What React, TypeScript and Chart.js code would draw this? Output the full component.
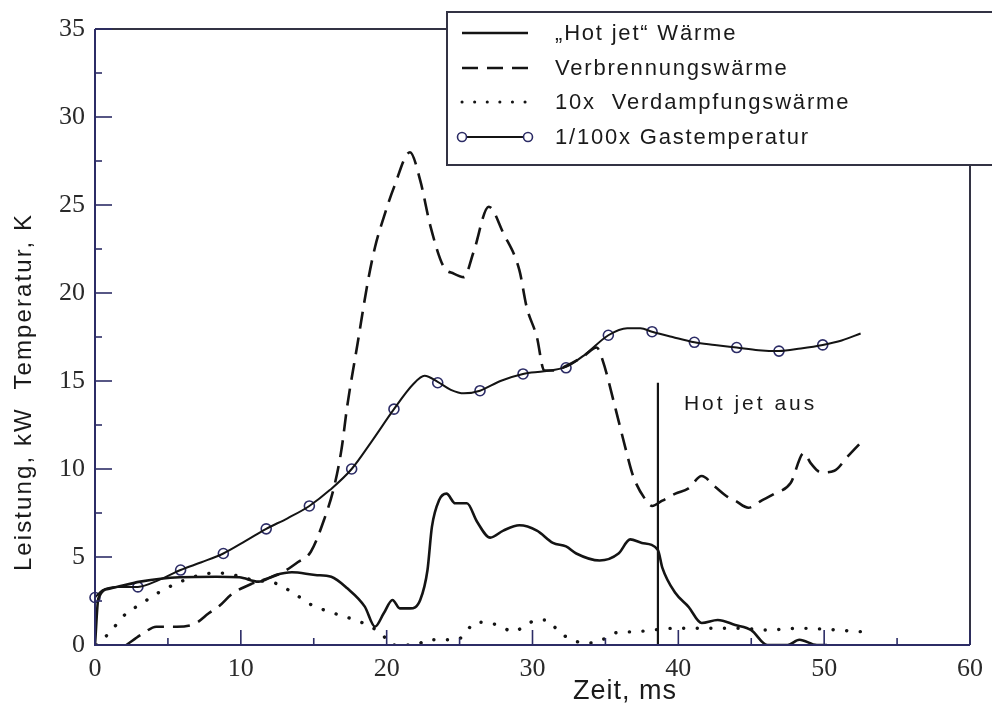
import React, { useEffect, useRef } from "react";
import { Chart, registerables } from "chart.js";

Chart.register(...registerables);

// ---- Data ----
const xTickValues = [0, 10, 20, 30, 40, 50, 60];
const yTickValues = [0, 5, 10, 15, 20, 25, 30, 35];

const legendLabels = [
  "\u201EHot jet\u201C W\u00E4rme",
  "Verbrennungsw\u00E4rme",
  "10x  Verdampfungsw\u00E4rme",
  "1/100x Gastemperatur",
];
const xTitle = "Zeit, ms";
const yTitle = "Leistung, kW  Temperatur, K";
const annotationText = "Hot jet aus";

// "Hot jet" Wärme (solid)
const hotJetX = [0, 0.23, 1.0, 3.1, 5.8, 8.3, 9.9, 11.2, 12.4, 13.5, 15.1, 16.2, 17.3, 18.5, 19.2, 19.8, 20.4, 20.9, 21.6, 22.3, 22.8, 23.1, 23.6, 24.1, 24.7, 25.5, 26.2, 27.1, 28.0, 29.1, 30.3, 31.4, 32.3, 33.0, 34.6, 35.9, 36.7, 37.5, 38.6, 38.9, 39.8, 40.7, 41.6, 42.7, 43.9, 45.0, 46.1, 47.5, 48.3, 49.5, 50.2];
const hotJetY = [0, 2.65, 3.2, 3.6, 3.85, 3.88, 3.85, 3.6, 3.98, 4.13, 3.98, 3.88, 3.22, 2.18, 1.04, 1.8, 2.56, 2.08, 2.08, 2.56, 4.26, 6.7, 8.24, 8.6, 8.05, 8.05, 7.0, 6.1, 6.5, 6.8, 6.5, 5.8, 5.6, 5.2, 4.8, 5.2, 6.0, 5.8, 5.4, 4.4, 2.95, 2.17, 1.25, 1.42, 1.14, 0.85, 0, 0, 0.3, 0, 0];

// Verbrennungswärme (dashed)
const combustionX = [2.15, 3.3, 4.2, 5.6, 6.9, 7.8, 8.5, 9.4, 10.8, 11.9, 12.8, 13.9, 14.8, 15.7, 16.4, 16.9, 17.3, 18.0, 18.7, 19.2, 19.8, 20.5, 21.6, 22.3, 23.0, 23.9, 24.6, 25.3, 25.95, 27.0, 28.0, 29.1, 29.6, 30.3, 30.8, 31.5, 32.3, 33.5, 34.4, 34.8, 35.7, 36.4, 36.9, 37.8, 38.2, 38.9, 39.8, 40.7, 41.6, 42.5, 43.4, 43.9, 44.8, 45.7, 46.6, 47.7, 48.6, 49.1, 49.8, 50.7, 51.6, 52.4];
const combustionY = [0, 0.66, 1.04, 1.04, 1.23, 1.8, 2.2, 2.9, 3.5, 3.8, 4.1, 4.7, 5.3, 7.1, 9.0, 11.1, 13.6, 17.1, 20.6, 22.6, 24.3, 26.0, 28.0, 26.4, 23.8, 21.5, 21.1, 20.9, 22.3, 24.9, 23.4, 21.3, 19.2, 17.5, 15.6, 15.6, 15.85, 16.4, 16.9, 16.2, 13.4, 11.1, 9.6, 8.2, 7.9, 8.2, 8.6, 8.9, 9.6, 9.0, 8.4, 8.2, 7.8, 8.2, 8.6, 9.2, 10.9, 10.3, 9.8, 9.9, 10.7, 11.4];

// 10x Verdampfungswärme (dotted)
const evapX = [0.1, 0.7, 1.3, 2.15, 3.1, 4.2, 5.6, 6.9, 8.3, 9.4, 10.8, 12.4, 13.7, 14.8, 16.4, 17.9, 19.0, 19.8, 20.3, 22.0, 22.8, 24.8, 26.2, 27.6, 28.7, 29.4, 30.3, 31.0, 31.6, 32.3, 33.7, 34.8, 35.5, 37.1, 39.8, 44.3, 45.9, 48.4, 52.5];
const evapY = [0, 0.45, 1.0, 1.8, 2.3, 2.9, 3.5, 3.9, 4.1, 4.0, 3.7, 3.5, 2.9, 2.3, 1.8, 1.4, 1.0, 0.5, 0, 0, 0.3, 0.3, 1.3, 1.14, 0.76, 1.04, 1.42, 1.42, 0.95, 0.47, 0.1, 0.3, 0.66, 0.76, 0.95, 0.95, 0.85, 0.95, 0.76];

// 1/100x Gastemperatur (line)
const gasX = [0, 0.5, 1.5, 2.94, 4.4, 5.87, 7.3, 8.8, 10.3, 11.74, 13.2, 14.7, 16.1, 17.6, 19.0, 20.5, 21.8, 22.6, 23.5, 24.4, 25.3, 26.4, 27.8, 29.35, 30.8, 32.3, 33.6, 35.2, 36.5, 37.4, 38.2, 39.6, 41.1, 42.5, 44.0, 45.5, 46.9, 48.4, 49.9, 51.2, 52.5];
const gasY = [2.7, 3.1, 3.3, 3.3, 3.7, 4.26, 4.7, 5.2, 5.9, 6.6, 7.2, 7.9, 8.8, 10.0, 11.6, 13.4, 14.8, 15.3, 14.95, 14.5, 14.3, 14.45, 15.0, 15.4, 15.55, 15.8, 16.5, 17.6, 18.0, 18.0, 17.8, 17.5, 17.2, 17.05, 16.9, 16.75, 16.7, 16.85, 17.05, 17.3, 17.7];
// 1/100x Gastemperatur (circle markers)
const gasMarkerX = [0, 2.94, 5.87, 8.8, 11.74, 14.7, 17.6, 20.5, 23.5, 26.4, 29.35, 32.3, 35.2, 38.2, 41.1, 44.0, 46.9, 49.9];
const gasMarkerY = [2.7, 3.3, 4.26, 5.2, 6.6, 7.9, 10.0, 13.4, 14.9, 14.45, 15.4, 15.75, 17.6, 17.8, 17.2, 16.9, 16.7, 17.05];

// "Hot jet aus" vertical marker
const hotJetOffX = [38.6, 38.6];
const hotJetOffY = [0, 14.9];

const zip = (xs: number[], ys: number[]) => xs.map((x, i) => ({ x, y: ys[i] }));

const INK = "#141414";
const AXIS = "#2c2c66";
const SANS = "'Liberation Sans', Arial, sans-serif";
const SERIF = "'Liberation Serif', 'Times New Roman', serif";

const decorPlugin = {
  id: "decor",
  afterDatasetsDraw(chart: any) {
    const { ctx, chartArea: a, scales } = chart;
    const xs = scales.x;
    const ys = scales.y;
    ctx.save();
    // frame
    ctx.lineCap = "butt";
    ctx.lineWidth = 2;
    ctx.strokeStyle = "#333344";
    ctx.beginPath();
    ctx.moveTo(a.left, a.top);
    ctx.lineTo(a.right, a.top);
    ctx.lineTo(a.right, a.bottom);
    ctx.stroke();
    ctx.strokeStyle = AXIS;
    ctx.beginPath();
    ctx.moveTo(a.left, a.top);
    ctx.lineTo(a.left, a.bottom);
    ctx.lineTo(a.right, a.bottom);
    ctx.stroke();

    // inward ticks
    ctx.lineWidth = 1.6;
    ctx.strokeStyle = AXIS;
    yTickValues.forEach((v, i) => {
      const py = ys.getPixelForValue(v);
      ctx.beginPath();
      ctx.moveTo(a.left, py);
      ctx.lineTo(a.left + 17, py);
      ctx.stroke();
      if (i < yTickValues.length - 1) {
        const pm = ys.getPixelForValue((v + yTickValues[i + 1]) / 2);
        ctx.beginPath();
        ctx.moveTo(a.left, pm);
        ctx.lineTo(a.left + 7, pm);
        ctx.stroke();
      }
    });
    xTickValues.forEach((v, i) => {
      const px = xs.getPixelForValue(v);
      ctx.beginPath();
      ctx.moveTo(px, a.bottom);
      ctx.lineTo(px, a.bottom - 15);
      ctx.stroke();
      if (i < xTickValues.length - 1) {
        const pm = xs.getPixelForValue((v + xTickValues[i + 1]) / 2);
        ctx.beginPath();
        ctx.moveTo(pm, a.bottom);
        ctx.lineTo(pm, a.bottom - 7);
        ctx.stroke();
      }
    });

    // annotation text
    ctx.fillStyle = "#1a1a1a";
    ctx.font = `21px ${SANS}`;
    (ctx as any).letterSpacing = "3px";
    ctx.textAlign = "left";
    ctx.textBaseline = "middle";
    ctx.fillText(
      annotationText,
      xs.getPixelForValue(hotJetOffX[0]) + 26,
      ys.getPixelForValue(hotJetOffY[1]) + 21
    );

    // axis titles
    (ctx as any).letterSpacing = "1px";
    ctx.fillStyle = "#1a1a1a";
    ctx.font = `27px ${SANS}`;
    ctx.textAlign = "center";
    ctx.textBaseline = "middle";
    ctx.fillText(xTitle, a.left + 530, a.bottom + 47);

    ctx.save();
    ctx.translate(a.left - 71, a.top + 363);
    ctx.rotate(-Math.PI / 2);
    (ctx as any).letterSpacing = "2.1px";
    ctx.font = `24px ${SANS}`;
    ctx.fillText(yTitle, 0, 0);
    ctx.restore();
    ctx.restore();
  },
  afterDraw(chart: any) {
    const { ctx } = chart;
    ctx.save();
    // legend box
    const bx = 447, by = 12, bw = 600, bh = 153;
    ctx.fillStyle = "#ffffff";
    ctx.fillRect(bx, by, bw, bh);
    ctx.lineWidth = 2;
    ctx.strokeStyle = "#333344";
    ctx.strokeRect(bx, by, bw, bh);

    const rows = [33, 68, 102, 137];
    const x0 = 462, x1 = 528;
    ctx.strokeStyle = INK;
    // solid
    ctx.lineWidth = 2.5;
    ctx.setLineDash([]);
    ctx.beginPath(); ctx.moveTo(x0, rows[0]); ctx.lineTo(x1, rows[0]); ctx.stroke();
    // dashed
    ctx.setLineDash([16, 9]);
    ctx.beginPath(); ctx.moveTo(x0, rows[1]); ctx.lineTo(x1, rows[1]); ctx.stroke();
    // dotted
    ctx.lineCap = "round";
    ctx.lineWidth = 3;
    ctx.setLineDash([0.1, 12.5]);
    ctx.beginPath(); ctx.moveTo(x0, rows[2]); ctx.lineTo(x1 + 2, rows[2]); ctx.stroke();
    // line with circles
    ctx.lineCap = "butt";
    ctx.setLineDash([]);
    ctx.lineWidth = 2;
    ctx.beginPath(); ctx.moveTo(x0, rows[3]); ctx.lineTo(x1, rows[3]); ctx.stroke();
    ctx.strokeStyle = AXIS;
    ctx.lineWidth = 1.6;
    ctx.fillStyle = "#ffffff";
    [x0, x1].forEach((cx) => {
      ctx.beginPath();
      ctx.arc(cx, rows[3], 4.5, 0, Math.PI * 2);
      ctx.fill();
      ctx.stroke();
    });

    ctx.fillStyle = "#1a1a1a";
    ctx.font = `22px ${SANS}`;
    (ctx as any).letterSpacing = "1.8px";
    ctx.textAlign = "left";
    ctx.textBaseline = "middle";
    legendLabels.forEach((t, i) => ctx.fillText(t, 555, rows[i] + 1));
    ctx.restore();
  },
};

export default function App() {
  const ref = useRef<HTMLCanvasElement | null>(null);

  useEffect(() => {
    if (!ref.current) return;
    const chart = new Chart(ref.current, {
      type: "line",
      data: {
        datasets: [
          {
            label: legendLabels[0],
            data: zip(hotJetX, hotJetY),
            borderColor: INK,
            borderWidth: 2.6,
            pointRadius: 0,
            cubicInterpolationMode: "monotone",
            fill: false,
          },
          {
            label: legendLabels[1],
            data: zip(combustionX, combustionY),
            borderColor: INK,
            borderWidth: 2.6,
            borderDash: [17, 9],
            pointRadius: 0,
            cubicInterpolationMode: "monotone",
            fill: false,
          },
          {
            label: legendLabels[2],
            data: zip(evapX, evapY),
            borderColor: INK,
            borderWidth: 3.4,
            borderDash: [0.1, 13.5],
            borderCapStyle: "round",
            pointRadius: 0,
            cubicInterpolationMode: "monotone",
            fill: false,
          },
          {
            label: legendLabels[3],
            data: zip(gasX, gasY),
            borderColor: INK,
            borderWidth: 2,
            pointRadius: 0,
            cubicInterpolationMode: "monotone",
            fill: false,
          },
          {
            label: legendLabels[3] + " markers",
            data: zip(gasMarkerX, gasMarkerY),
            showLine: false,
            pointRadius: 5,
            pointBorderWidth: 1.6,
            pointBorderColor: AXIS,
            pointBackgroundColor: "rgba(255,255,255,0)",
            clip: false,
          },
          {
            label: annotationText,
            data: zip(hotJetOffX, hotJetOffY),
            borderColor: INK,
            borderWidth: 2.2,
            pointRadius: 0,
            tension: 0,
            fill: false,
          },
        ],
      } as any,
      options: {
        animation: false,
        responsive: false,
        devicePixelRatio: 1,
        layout: { padding: { left: 0, top: 29, right: 17, bottom: 0 } },
        plugins: {
          legend: { display: false },
          tooltip: { enabled: false },
          title: { display: false },
        },
        scales: {
          x: {
            type: "linear",
            min: 0,
            max: 60,
            afterBuildTicks: (scale: any) => {
              scale.ticks = xTickValues.map((v) => ({ value: v }));
            },
            ticks: {
              font: { family: SERIF, size: 26 },
              color: "#2a2a2a",
              padding: 9,
              maxRotation: 0,
            },
            grid: { display: false, drawTicks: false },
            border: { display: false },
            afterFit: (scale: any) => {
              scale.height = 63;
            },
          },
          y: {
            type: "linear",
            min: 0,
            max: 35,
            afterBuildTicks: (scale: any) => {
              scale.ticks = yTickValues.map((v) => ({ value: v }));
            },
            ticks: {
              font: { family: SERIF, size: 26 },
              color: "#2a2a2a",
              padding: 10,
            },
            grid: { display: false, drawTicks: false },
            border: { display: false },
            afterFit: (scale: any) => {
              scale.width = 95;
            },
          },
        },
      } as any,
      plugins: [decorPlugin],
    });
    return () => chart.destroy();
  }, []);

  return (
    <div style={{ position: "fixed", left: 0, top: 0, width: 992, height: 708, background: "#fff" }}>
      <canvas ref={ref} width={992} height={708} style={{ display: "block", width: 992, height: 708 }} />
    </div>
  );
}
